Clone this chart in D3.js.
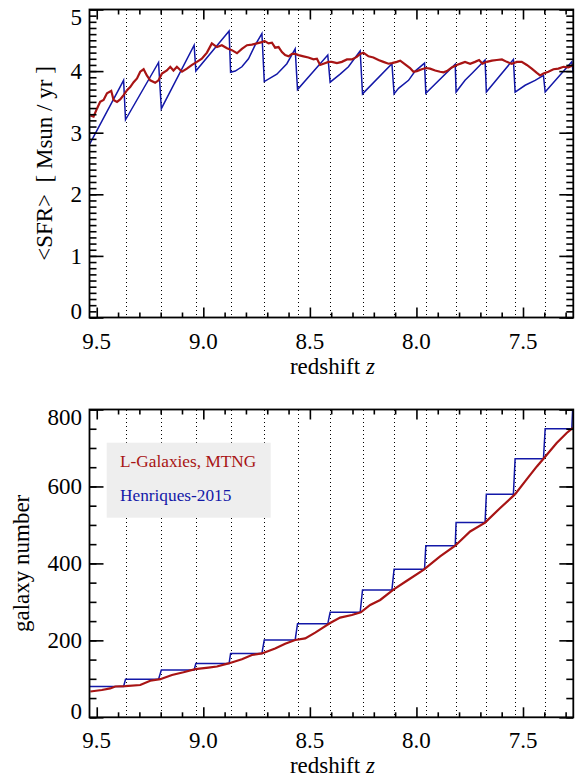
<!DOCTYPE html>
<html>
<head>
<meta charset="utf-8">
<script src="https://cdn.jsdelivr.net/npm/d3@7"></script>
<style>
  body { margin: 0; background: #fff; }
  svg { display: block; font-family: "Liberation Serif", "Times New Roman", serif; }
</style>
</head>
<body>
<div id="chart"></div>
<script>
// snapshot redshifts (dotted lines)
const snapZ = [9.365, 9.197, 9.035, 8.872, 8.714, 8.558, 8.405, 8.253, 8.105, 7.956, 7.814, 7.672, 7.537, 7.396];
const xMajor = [9.5, 9.0, 8.5, 8.0, 7.5];
const sfrTicks = [0, 1, 2, 3, 4, 5];
const numTicks = [0, 200, 400, 600, 800];

// <SFR>, L-Galaxies MTNG  [z, value]
const sfrMTNG = [
  [9.530, 3.28], [9.515, 3.26], [9.499, 3.39], [9.484, 3.50], [9.468, 3.53], [9.452, 3.64],
  [9.432, 3.68], [9.421, 3.53], [9.405, 3.50], [9.390, 3.54], [9.374, 3.61], [9.358, 3.69],
  [9.343, 3.74], [9.327, 3.82], [9.311, 3.88], [9.296, 3.99], [9.280, 4.03], [9.265, 3.93],
  [9.249, 3.85], [9.226, 3.81], [9.210, 3.85], [9.194, 3.96], [9.171, 4.01], [9.155, 4.07],
  [9.140, 4.01], [9.124, 4.07], [9.100, 3.99], [9.077, 4.04], [9.053, 4.10], [9.030, 4.15],
  [9.007, 4.20], [8.983, 4.30], [8.960, 4.45], [8.936, 4.39], [8.913, 4.42], [8.889, 4.37],
  [8.866, 4.34], [8.842, 4.29], [8.819, 4.36], [8.795, 4.42], [8.772, 4.43], [8.749, 4.45],
  [8.725, 4.47], [8.713, 4.49], [8.694, 4.45], [8.678, 4.46], [8.663, 4.38], [8.647, 4.39],
  [8.631, 4.31], [8.616, 4.26], [8.600, 4.24], [8.584, 4.28], [8.569, 4.28], [8.553, 4.26],
  [8.530, 4.24], [8.507, 4.22], [8.483, 4.19], [8.467, 4.20], [8.452, 4.10], [8.436, 4.12],
  [8.413, 4.15], [8.397, 4.15], [8.373, 4.13], [8.350, 4.15], [8.326, 4.19], [8.303, 4.19],
  [8.280, 4.23], [8.264, 4.28], [8.249, 4.30], [8.225, 4.24], [8.202, 4.22], [8.178, 4.18],
  [8.155, 4.15], [8.131, 4.12], [8.115, 4.13], [8.092, 4.15], [8.076, 4.17], [8.053, 4.11],
  [8.030, 4.05], [8.014, 3.99], [7.998, 4.00], [7.975, 4.03], [7.956, 4.05], [7.936, 4.04],
  [7.912, 4.01], [7.889, 3.99], [7.873, 3.98], [7.857, 4.00], [7.834, 4.06], [7.811, 4.10],
  [7.787, 4.13], [7.772, 4.15], [7.748, 4.12], [7.725, 4.15], [7.706, 4.18], [7.690, 4.12],
  [7.670, 4.15], [7.646, 4.17], [7.623, 4.18], [7.599, 4.19], [7.576, 4.15], [7.553, 4.12],
  [7.529, 4.15], [7.506, 4.15], [7.482, 4.10], [7.459, 4.04], [7.435, 3.97], [7.420, 3.93],
  [7.404, 3.96], [7.381, 3.99], [7.357, 4.03], [7.334, 4.04], [7.310, 4.07], [7.287, 4.06],
  [7.264, 4.10]
];

// <SFR>, Henriques-2015  [z, value]
const sfrH15 = [
  [9.534, 2.81], [9.374, 3.85], [9.365, 3.21], [9.210, 4.14], [9.197, 3.39], [9.043, 4.42],
  [9.035, 4.00], [8.879, 4.65], [8.872, 3.98], [8.850, 4.00], [8.819, 4.07], [8.788, 4.20],
  [8.757, 4.42], [8.725, 4.61], [8.714, 3.83], [8.655, 3.95], [8.608, 4.12], [8.569, 4.36],
  [8.558, 3.70], [8.416, 4.26], [8.405, 3.82], [8.358, 3.95], [8.319, 4.07], [8.264, 4.33],
  [8.253, 3.63], [8.115, 4.12], [8.105, 3.63], [8.084, 3.72], [8.037, 3.85], [8.006, 4.00],
  [7.962, 4.13], [7.956, 3.64], [7.818, 4.11], [7.814, 3.66], [7.772, 3.85], [7.740, 3.96],
  [7.678, 4.18], [7.672, 3.66], [7.545, 4.19], [7.537, 3.66], [7.490, 3.77], [7.443, 3.85],
  [7.404, 3.93], [7.396, 3.66], [7.271, 4.15], [7.264, 3.96]
];

// galaxy number, L-Galaxies MTNG  [z, value]
const numMTNG = [
  [9.530, 67], [9.476, 71], [9.437, 75], [9.413, 80], [9.366, 81], [9.296, 84], [9.249, 95],
  [9.202, 99], [9.147, 110], [9.093, 117], [9.038, 125], [8.976, 129], [8.936, 132],
  [8.882, 140], [8.819, 151], [8.772, 162], [8.725, 166], [8.663, 179], [8.616, 191],
  [8.569, 201], [8.522, 205], [8.475, 220], [8.444, 231], [8.405, 245], [8.358, 259],
  [8.303, 266], [8.261, 273], [8.217, 292], [8.170, 305], [8.108, 332], [8.045, 355],
  [7.967, 383], [7.889, 418], [7.818, 446], [7.748, 483], [7.678, 506], [7.607, 544],
  [7.537, 580], [7.482, 619], [7.435, 652], [7.404, 672], [7.342, 713], [7.295, 739],
  [7.266, 752]
];

// galaxy number, Henriques-2015: step levels, jump start / end redshifts
const numH15Levels = [80, 99, 123, 140, 166, 201, 243, 273, 331, 385, 446, 506, 580, 672, 750, 840];
const numH15JumpFrom = [9.374, 9.210, 9.043, 8.879, 8.725, 8.569, 8.416, 8.264, 8.115, 7.962, 7.818, 7.678, 7.545, 7.404, 7.271];
const numH15JumpTo = [9.365, 9.197, 9.035, 8.872, 8.714, 8.558, 8.405, 8.253, 8.105, 7.956, 7.814, 7.672, 7.537, 7.396, 7.264];

const legendLabels = ["L-Galaxies, MTNG", "Henriques-2015"];

const RED = "#a81414";
const BLUE = "#1318a8";

const W = 577, H = 777;
const L = 89.5, R = 573.3;

const svg = d3.select("#chart").append("svg")
  .attr("width", W)
  .attr("height", H);

const x = d3.scaleLinear().domain([9.534, 7.264]).range([L, R]);
const xMinor = d3.range(73, 96).map(d => d / 10).filter(d => Math.abs(d * 2 - Math.round(d * 2)) > 1e-6);

const line = (xs, ys) => d3.line().x(d => xs(d[0])).y(d => ys(d[1]));

function drawPanel(id, top, bottom, domain, major, minor, title, titleX) {
  const y = d3.scaleLinear().domain(domain).range([bottom, top]);
  const g = svg.append("g");

  svg.append("clipPath").attr("id", "clip" + id)
    .append("rect")
    .attr("x", L).attr("y", top)
    .attr("width", R - L).attr("height", bottom - top);

  // snapshot lines, snapped to the pixel grid so the dots stay crisp
  g.append("g")
    .selectAll("line")
    .data(snapZ)
    .join("line")
    .attr("x1", d => Math.round(x(d)) + 0.5).attr("x2", d => Math.round(x(d)) + 0.5)
    .attr("y1", Math.round(top)).attr("y2", bottom)
    .attr("stroke", "#000")
    .attr("stroke-width", 1)
    .attr("stroke-dasharray", "1,3");

  const plot = g.append("g").attr("clip-path", `url(#clip${id})`);

  // ticks (inward on all sides)
  const tickStyle = sel => {
    sel.select(".domain").remove();
    sel.selectAll("text").remove();
    sel.selectAll("line").attr("stroke", "#000").attr("stroke-width", 1.6);
  };
  g.append("g").attr("transform", `translate(0,${bottom})`)
    .call(d3.axisBottom(x).tickValues(xMajor).tickSize(-10)).call(tickStyle);
  g.append("g").attr("transform", `translate(0,${bottom})`)
    .call(d3.axisBottom(x).tickValues(xMinor).tickSize(-5)).call(tickStyle);
  g.append("g").attr("transform", `translate(0,${top})`)
    .call(d3.axisTop(x).tickValues(xMajor).tickSize(-10)).call(tickStyle);
  g.append("g").attr("transform", `translate(0,${top})`)
    .call(d3.axisTop(x).tickValues(xMinor).tickSize(-5)).call(tickStyle);
  g.append("g").attr("transform", `translate(${L},0)`)
    .call(d3.axisLeft(y).tickValues(major).tickSize(-14)).call(tickStyle);
  g.append("g").attr("transform", `translate(${L},0)`)
    .call(d3.axisLeft(y).tickValues(minor).tickSize(-7)).call(tickStyle);
  g.append("g").attr("transform", `translate(${R},0)`)
    .call(d3.axisRight(y).tickValues(major).tickSize(-14)).call(tickStyle);
  g.append("g").attr("transform", `translate(${R},0)`)
    .call(d3.axisRight(y).tickValues(minor).tickSize(-7)).call(tickStyle);

  // frame
  g.append("rect")
    .attr("x", L).attr("y", top)
    .attr("width", R - L).attr("height", bottom - top)
    .attr("fill", "none")
    .attr("stroke", "#000")
    .attr("stroke-width", 1.8);

  // x tick labels
  g.append("g")
    .selectAll("text")
    .data(xMajor)
    .join("text")
    .attr("x", d => x(d))
    .attr("y", bottom + 31)
    .attr("text-anchor", "middle")
    .attr("font-size", 23)
    .text(d3.format(".1f"));

  // y tick labels
  const lo = domain[0], hi = domain[1];
  g.append("g")
    .selectAll("text")
    .data(major)
    .join("text")
    .attr("x", 82)
    .attr("y", d => y(d) + 8 + (d === lo ? -6.5 : d === hi ? 7 : 0))
    .attr("text-anchor", "end")
    .attr("font-size", 23)
    .text(d => d);

  // x title
  const xt = g.append("text")
    .attr("x", (L + R) / 2 + 1)
    .attr("y", bottom + 56)
    .attr("text-anchor", "middle")
    .attr("font-size", 23);
  xt.append("tspan").text("redshift ");
  xt.append("tspan").attr("font-style", "italic").text("z");

  // y title
  g.append("text")
    .attr("transform", `translate(${titleX},${(top + bottom) / 2}) rotate(-90)`)
    .attr("text-anchor", "middle")
    .attr("font-size", 23)
    .style("white-space", "pre")
    .text(title);

  return { plot, y };
}

// top panel: mean SFR
const p1 = drawPanel(1, 9.5, 317.5, [0, 5], sfrTicks, d3.range(0, 51).map(d => d / 10),
  "<SFR>  [ Msun / yr ]", 52);

p1.plot.append("path")
  .datum(sfrH15)
  .attr("d", line(x, p1.y))
  .attr("fill", "none")
  .attr("stroke", BLUE)
  .attr("stroke-width", 1.5);

p1.plot.append("path")
  .datum(sfrMTNG)
  .attr("d", line(x, p1.y))
  .attr("fill", "none")
  .attr("stroke", RED)
  .attr("stroke-width", 2.2);

// bottom panel: galaxy number
const p2 = drawPanel(2, 409.5, 717.3, [0, 800], numTicks, d3.range(0, 801, 50),
  "galaxy number", 29);

const numH15 = [[9.534, numH15Levels[0]]];
numH15JumpFrom.forEach((z, i) => {
  numH15.push([z, numH15Levels[i]]);
  numH15.push([numH15JumpTo[i], numH15Levels[i + 1]]);
});

p2.plot.append("path")
  .datum(numH15)
  .attr("d", line(x, p2.y))
  .attr("fill", "none")
  .attr("stroke", BLUE)
  .attr("stroke-width", 1.5);

p2.plot.append("path")
  .datum(numMTNG)
  .attr("d", line(x, p2.y))
  .attr("fill", "none")
  .attr("stroke", RED)
  .attr("stroke-width", 2.2);

// legend
const legend = svg.append("g");
legend.append("rect")
  .attr("x", 106.7).attr("y", 442.7)
  .attr("width", 164).attr("height", 75)
  .attr("fill", "#eeeeee");
legend.selectAll("text")
  .data(legendLabels)
  .join("text")
  .attr("x", 120)
  .attr("y", (d, i) => 467 + i * 34)
  .attr("font-size", 17.3)
  .attr("fill", (d, i) => i === 0 ? RED : BLUE)
  .text(d => d);
</script>
</body>
</html>
